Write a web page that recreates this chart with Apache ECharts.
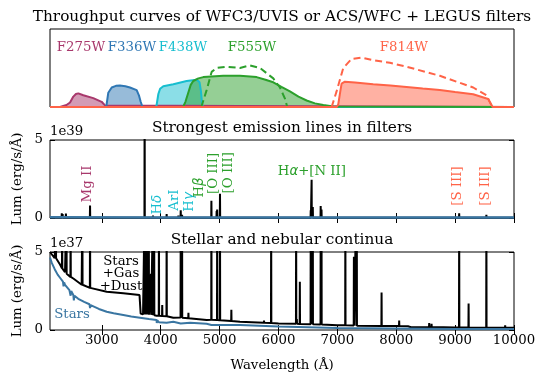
<!DOCTYPE html>
<html><head><meta charset="utf-8">
<script src="https://cdn.jsdelivr.net/npm/echarts@6/dist/echarts.min.js"></script>
<style>html,body{margin:0;padding:0;background:#fff}#c{width:546px;height:385px}</style>
</head><body><div id="c"></div>
<script>
// ---------------- DATA ----------------
const xTicks = [3000, 4000, 5000, 6000, 7000, 8000, 9000, 10000];
const yTicks = [0, 5];
const xMin = 2120, xMax = 10000;

// throughput curves [wavelength (A), throughput]
const f275w = [[2120,0],[2290,0],[2400,0.015],[2460,0.035],[2516,0.08],[2560,0.1],[2601,0.105],[2686,0.09],[2855,0.068],[2997,0.04],[3054,0.012],[3083,0],[10000,0]];
const f336w = [[2120,0],[3075,0],[3110,0.11],[3168,0.15],[3240,0.163],[3308,0.165],[3400,0.16],[3478,0.15],[3592,0.13],[3630,0.09],[3660,0.04],[3690,0],[10000,0]];
const f438w = [[2120,0],[3925,0],[3960,0.1],[3990,0.14],[4044,0.16],[4214,0.175],[4440,0.2],[4610,0.21],[4660,0.19],[4684,0.12],[4700,0.04],[4713,0],[10000,0]];
const f555w = [[2120,0],[4380,0],[4420,0.04],[4468,0.11],[4510,0.17],[4553,0.2],[4640,0.22],[4723,0.23],[5062,0.24],[5346,0.24],[5629,0.23],[5780,0.21],[5912,0.19],[6050,0.155],[6195,0.12],[6340,0.08],[6478,0.05],[6620,0.028],[6762,0.015],[6930,0.003],[10000,0]];
const f555wAcs = [[4690,0],[4780,0.13],[4865,0.27],[4950,0.3],[5120,0.31],[5346,0.3],[5516,0.32],[5686,0.3],[5912,0.22],[6025,0.15],[6110,0.065],[6149,0]];
const f814w = [[2120,0],[6990,0],[7015,0.02],[7050,0.12],[7072,0.18],[7128,0.195],[7300,0.188],[7609,0.175],[7900,0.165],[8175,0.154],[8450,0.142],[8741,0.13],[9000,0.115],[9307,0.098],[9562,0.062],[9600,0.03],[9637,0],[10000,0]];
const f814wAcs = [[6903,0],[6987,0.12],[7100,0.3],[7242,0.37],[7412,0.38],[7609,0.36],[7892,0.34],[8175,0.31],[8741,0.24],[9307,0.15],[9534,0.09],[9619,0.01],[9640,0]];
const filterNames = ['F275W','F336W','F438W','F555W','F814W'];

// panel 2: emission lines only (units 1e39 erg/s/A)
const emBase2 = 0.02;
const emLines2 = [[2320,0.3],[2335,0.25],[2390,0.28],[2470,0.05],[2800,0.8],[3727,9],[3869,0.15],[3889,0.12],[3968,0.08],[4101,0.25],[4300,0.15],[4340,0.5],[4363,0.2],[4471,0.08],[4861,1.1],[4950,0.45],[4959,0.55],[5007,1.55],[5200,0.05],[5876,0.12],[6300,0.1],[6363,0.05],[6548,0.5],[6563,2.45],[6583,0.7],[6717,0.77],[6731,0.55],[7136,0.1],[7320,0.06],[7330,0.05],[7751,0.04],[9069,0.3],[9531,0.2]];
const stars2 = [[2120,0.05],[4000,0.035],[10000,0.03]];

// panel 3: continua (units 1e37 erg/s/A)
const total3 = [[2120,5.0],[2200,4.6],[2290,4.2],[2375,3.7],[2516,3.3],[2658,2.9],[2800,2.7],[3083,2.45],[3365,2.35],[3640,2.24],[3660,1.05],[3700,1.0],[3931,0.92],[4214,0.79],[4780,0.64],[5346,0.53],[6000,0.42],[7000,0.3],[8200,0.24],[8250,0.18],[9000,0.16],[10000,0.14]];
// emission lines on top of continuum: [wavelength, local level, peak]
const lines3 = [[2220,4.6,8],[2326,3.95,8],[2400,3.6,8],[2470,3.4,8],[2670,2.9,8],[2800,2.7,8],[3727,1.0,8],[3750,1.0,8],[3771,1.0,8],[3798,0.98,8],[3835,0.97,3.6],[3869,0.95,8],[3889,0.94,8],[3970,0.92,8],[4026,0.9,1.6],[4101,0.88,8],[4340,0.8,8],[4363,0.79,8],[4471,0.75,1.1],[4861,0.66,8],[4959,0.64,8],[5007,0.63,8],[5200,0.58,1.3],[5755,0.47,0.6],[5876,0.45,8],[6300,0.4,8],[6312,0.4,0.7],[6363,0.39,3.1],[6548,0.37,8],[6563,0.37,8],[6583,0.37,8],[6717,0.35,8],[6731,0.35,8],[7136,0.3,8],[7281,0.29,4.7],[7320,0.28,8],[7330,0.28,8],[7751,0.26,2.4],[8050,0.25,0.6],[8560,0.2,0.45],[8600,0.2,0.4],[9069,0.17,8],[9229,0.16,1.7],[9531,0.15,8],[9850,0.14,0.3]];
const stars3 = [[2120,4.65],[2150,4.3],[2200,3.9],[2250,3.55],[2300,3.3],[2340,3.1],[2350,2.8],[2360,3.05],[2375,2.9],[2450,2.55],[2470,2.2],[2480,2.5],[2516,2.25],[2525,1.9],[2535,2.2],[2600,2.0],[2700,1.8],[2790,1.65],[2800,1.4],[2810,1.6],[2950,1.35],[3083,1.17],[3200,1.07],[3365,0.96],[3500,0.87],[3648,0.79],[3800,0.7],[3930,0.64],[3933,0.45],[3940,0.63],[3968,0.5],[3975,0.62],[4101,0.47],[4110,0.57],[4214,0.53],[4340,0.42],[4350,0.5],[4500,0.46],[4780,0.4],[4861,0.32],[4870,0.39],[5346,0.32],[6000,0.22],[7000,0.13],[8000,0.1],[9000,0.07],[10000,0.06]];

// ---------------- STYLE ----------------
const SERIF = 'DejaVu Serif';
const FS = 13.3, TFS = 15.3;
const C = {f275:'#a8386c', f336:'#2f77b4', f438:'#17becf', f555:'#2ca02c', f814:'#ff6347', stars:'#3a76a2'};

function spikes(cont, lines, base) {
  const pts = cont.map(p => [p[0], p[1]]);
  lines.forEach(l => {
    const w = l[0], b = (l.length === 3 ? l[1] : base), pk = (l.length === 3 ? l[2] : l[1]);
    pts.push([w - 3, b], [w, pk], [w + 3, b]);
  });
  pts.sort((a, b) => a[0] - b[0]);
  return pts;
}

const G = [
  {left:50, top:29, width:464, height:78},
  {left:50, top:140, width:464, height:78},
  {left:50, top:252, width:464, height:78}
];
const grids = G.map(g => Object.assign({show:true, borderColor:'#000', borderWidth:1, backgroundColor:'transparent', containLabel:false}, g));

function xAx(grid, pos, labels) {
  return {type:'value', gridIndex:grid, position:pos, min:xMin, max:xMax,
    axisLine:{show:false}, splitLine:{show:false},
    axisTick:{show:true, inside:true, length:5, lineStyle:{color:'#000', width:1}, customValues:xTicks},
    axisLabel:{show:labels, customValues:xTicks, formatter:v => String(v), color:'#000', fontFamily:SERIF, fontSize:FS, margin:4}};
}
function yAx(grid, pos, labels) {
  return {type:'value', gridIndex:grid, position:pos, min:0, max:5, interval:5,
    axisLine:{show:false}, splitLine:{show:false},
    axisTick:{show:true, inside:true, length:5, lineStyle:{color:'#000', width:1}},
    axisLabel:{show:labels, formatter:v => String(v), color:'#000', fontFamily:SERIF, fontSize:FS, margin:7}};
}

const xAxes = [
  {type:'value', gridIndex:0, min:xMin, max:xMax, show:false},
  xAx(1,'bottom',false), xAx(1,'top',false),
  xAx(2,'bottom',true), xAx(2,'top',false)
];
const yAxes = [
  {type:'value', gridIndex:0, min:0, max:0.6, show:false},
  yAx(1,'left',true), yAx(1,'right',false),
  yAx(2,'left',true), yAx(2,'right',false)
];

function filt(data, color, dashed, fill) {
  const s = {type:'line', xAxisIndex:0, yAxisIndex:0, data:data, showSymbol:false, symbol:'none',
    lineStyle:{color:color, width:2, type: dashed ? [7,4] : 'solid'}, silent:true, animation:false};
  if (fill) s.areaStyle = {color:color, opacity:0.5};
  return s;
}

const series = [
  filt(f275w, C.f275, false, true),
  filt(f336w, C.f336, false, true),
  filt(f438w, C.f438, false, true),
  filt(f555w, C.f555, false, true),
  filt(f555wAcs, C.f555, true, false),
  filt(f814w, C.f814, false, true),
  filt(f814wAcs, C.f814, true, false),
  {type:'line', xAxisIndex:1, yAxisIndex:1, data:spikes([[xMin,emBase2],[xMax,emBase2]], emLines2, emBase2), showSymbol:false, symbol:'none', clip:true,
    lineStyle:{color:'#000', width:2}, animation:false},
  {type:'line', xAxisIndex:1, yAxisIndex:1, data:stars2, showSymbol:false, symbol:'none', clip:true,
    lineStyle:{color:C.stars, width:2.5}, animation:false},
  {type:'line', xAxisIndex:3, yAxisIndex:3, data:spikes(total3, lines3), showSymbol:false, symbol:'none', clip:true,
    lineStyle:{color:'#000', width:2}, animation:false},
  {type:'line', xAxisIndex:3, yAxisIndex:3, data:stars3, showSymbol:false, symbol:'none', clip:true,
    lineStyle:{color:C.stars, width:2}, animation:false}
];

const chart = echarts.init(document.getElementById('c'), null, {renderer:'canvas', width:546, height:385});
chart.setOption({animation:false, grid:grids, xAxis:xAxes, yAxis:yAxes, series:series});

// ---------------- TEXT ----------------
function txt(x, y, text, color, opts) {
  opts = opts || {};
  return {type:'text', x:x, y:y, rotation: opts.rot ? Math.PI/2 : 0, z:100,
    style:{text:text, fill:color, fontFamily:SERIF, fontSize:opts.size || FS,
      align:opts.align || 'center', verticalAlign:'middle', textAlign:opts.align || 'center', textVerticalAlign:'middle',
      lineHeight:opts.lh || 15, rich:opts.rich}};
}
const P = (xi, yi, x, y) => chart.convertToPixel({xAxisIndex:xi, yAxisIndex:yi}, [x, y]);
const greek = {g:{fontFamily:'DejaVu Sans', fontStyle:'italic', fontSize:FS}};
const g = [];
g.push(txt(282, 17, 'Throughput curves of WFC3/UVIS or ACS/WFC + LEGUS filters', '#000', {size:TFS}));
g.push(txt(282, 128, 'Strongest emission lines in filters', '#000', {size:TFS}));
g.push(txt(282, 240, 'Stellar and nebular continua', '#000', {size:TFS}));
g.push(txt(282, 366, 'Wavelength (Å)', '#000'));
g.push(txt(18, 179, 'Lum (erg/s/Å)', '#000', {rot:true}));
g.push(txt(18, 291, 'Lum (erg/s/Å)', '#000', {rot:true}));
g.push(txt(50, 132, '1e39', '#000', {align:'left'}));
g.push(txt(50, 244, '1e37', '#000', {align:'left'}));

const filtLab = [[2646,C.f275],[3512,C.f336],[4378,C.f438],[5550,C.f555],[8130,C.f814]];
filtLab.forEach((f, i) => { const p = P(0,0,f[0],0.46); g.push(txt(p[0], p[1], filterNames[i], f[1])); });

const ann2 = [
  [2765,2.18,'Mg II',C.f275,true],
  [3954,0.85,'H{g|δ}',C.f438,true],
  [4242,1.15,'ArI',C.f438,true],
  [4497,1.03,'H{g|γ}',C.f438,true],
  [4667,1.95,'H{g|β}',C.f555,true],
  [4893,2.86,'[O III]',C.f555,true],
  [5159,2.9,'[O III]',C.f555,true],
  [6568,2.97,'H{g|α}+[N II]',C.f555,false],
  [9039,2.05,'[S III]',C.f814,true],
  [9522,2.05,'[S III]',C.f814,true]
];
ann2.forEach(a => { const p = P(1,1,a[0],a[1]); g.push(txt(p[0], p[1], a[2], a[3], {rot:a[4], rich:greek})); });

let p = P(3,3,3325,3.6);
g.push(txt(p[0], p[1], 'Stars\n+Gas\n+Dust', '#000', {lh:12.5}));
p = P(3,3,2494,1.0);
g.push(txt(p[0], p[1], 'Stars', C.stars));

chart.setOption({graphic:g});
</script></body></html>
